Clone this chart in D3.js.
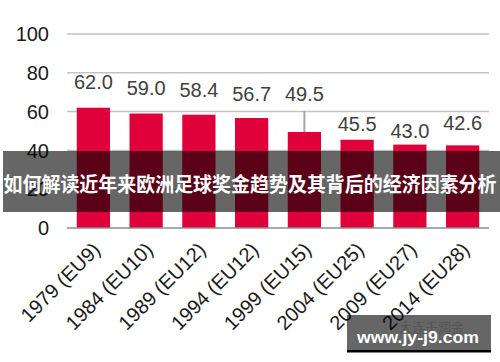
<!DOCTYPE html>
<html><head><meta charset="utf-8">
<script src="https://cdn.jsdelivr.net/npm/d3@7"></script>
<style>
html,body{margin:0;padding:0;background:#fff;}
svg{display:block;}
</style></head>
<body>
<svg id="c" width="500" height="362"></svg>
<script>
const categories = ["1979 (EU9)","1984 (EU10)","1989 (EU12)","1994 (EU12)","1999 (EU15)","2004 (EU25)","2009 (EU27)","2014 (EU28)"];
const values = [62.0, 59.0, 58.4, 56.7, 49.5, 45.5, 43.0, 42.6];
const valueLabels = ["62.0","59.0","58.4","56.7","49.5","45.5","43.0","42.6"];
const yTicks = [0, 20, 40, 60, 80, 100];
const titleText = "如何解读近年来欧洲足球奖金趋势及其背后的经济因素分析";
const watermarkText = "www.jy-j9.com";
const watermarkFaint = "大连千润金";
// label lift above bar top (px), as placed in the original
const labelLift = [18.7, 18.5, 18, 17, 31, 8.7, 6.6, 15.4];

const svg = d3.select("#c");
const x = d3.scaleBand().domain(categories).range([67, 489]).paddingInner(0.37).paddingOuter(0.185);
const y = d3.scaleLinear().domain([0, 100]).range([228, 34]);

// gridlines
svg.append("g").selectAll("line").data(yTicks.filter(d => d > 0)).join("line")
  .attr("x1", 67).attr("x2", 489)
  .attr("y1", d => y(d)).attr("y2", d => y(d))
  .attr("stroke", "#c3c3c3").attr("stroke-width", 1.5);

// y tick labels
svg.append("g").selectAll("text").data(yTicks).join("text")
  .attr("x", 49).attr("y", d => y(d))
  .attr("dy", "0.36em")
  .attr("text-anchor", "end")
  .attr("font-family", "Liberation Sans, Arial, sans-serif")
  .attr("font-size", 20).attr("fill", "#1a1a1a")
  .text(d => d);

// bars
svg.append("g").selectAll("rect").data(values).join("rect")
  .attr("x", (d, i) => x(categories[i]))
  .attr("width", x.bandwidth())
  .attr("y", d => y(d))
  .attr("height", d => y(0) - y(d))
  .attr("fill", "#e0003a");

// baseline
svg.append("line").attr("x1", 67).attr("x2", 489).attr("y1", y(0)).attr("y2", y(0))
  .attr("stroke", "#8c8c8c").attr("stroke-width", 1.5);

// leader line for displaced label
values.forEach((v, i) => {
  if (labelLift[i] > 25) {
    const cx = x(categories[i]) + x.bandwidth() / 2;
    svg.append("line").attr("x1", cx).attr("x2", cx)
      .attr("y1", y(v) - labelLift[i] + 10).attr("y2", y(v))
      .attr("stroke", "#a6a6a6").attr("stroke-width", 2);
  }
});

// value labels
svg.append("g").selectAll("text").data(values).join("text")
  .attr("x", (d, i) => x(categories[i]) + x.bandwidth() / 2)
  .attr("y", (d, i) => y(d) - labelLift[i])
  .attr("text-anchor", "middle")
  .attr("font-family", "Liberation Sans, Arial, sans-serif")
  .attr("font-size", 20).attr("fill", "#404040")
  .text((d, i) => valueLabels[i]);

// x axis labels
svg.append("g").selectAll("text").data(categories).join("text")
  .attr("transform", d => `translate(${x(d) + x.bandwidth() / 2 + 8},${251}) rotate(-45)`)
  .attr("text-anchor", "end")
  .attr("font-family", "Liberation Sans, Arial, sans-serif")
  .attr("font-size", 20).attr("fill", "#1a1a1a")
  .text(d => d);

// overlay band
svg.append("rect").attr("x", 3).attr("y", 151).attr("width", 497).attr("height", 61)
  .attr("fill", "rgba(0,0,0,0.6)");
svg.append("text").attr("x", 250).attr("y", 192)
  .attr("text-anchor", "middle")
  .attr("font-family", "Noto Sans CJK SC, sans-serif")
  .attr("font-weight", "bold").attr("font-size", 20).attr("fill", "#fff")
  .attr("textLength", 493).attr("lengthAdjust", "spacingAndGlyphs")
  .text(titleText);

// watermark
svg.append("rect").attr("x", 347).attr("y", 315).attr("width", 144).attr("height", 35)
  .attr("fill", "rgba(0,0,0,0.6)");
svg.append("rect").attr("x", 347).attr("y", 350).attr("width", 144).attr("height", 2.5)
  .attr("fill", "#000");
svg.append("text").attr("x", 399).attr("y", 332)
  .attr("font-family", "Noto Sans CJK SC, sans-serif")
  .attr("font-size", 13).attr("fill", "#555")
  .text(watermarkFaint);
svg.append("text").attr("x", 357).attr("y", 342.5)
  .attr("font-family", "Liberation Sans, Arial, sans-serif")
  .attr("font-weight", "bold").attr("font-size", 17).attr("fill", "#fff")
  .attr("textLength", 122).attr("lengthAdjust", "spacingAndGlyphs")
  .text(watermarkText);
</script>
</body></html>
